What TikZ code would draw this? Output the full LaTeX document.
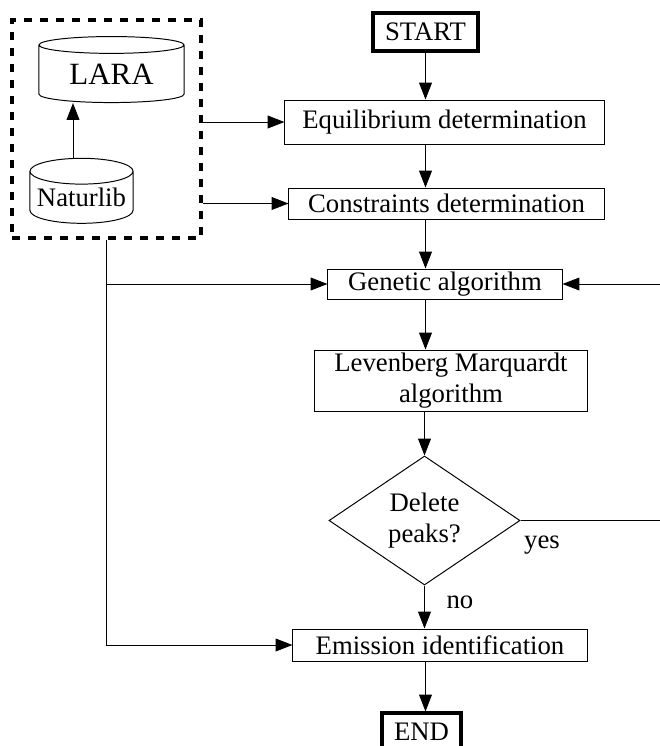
\documentclass[tikz,border=0pt]{standalone}
\usepackage{fontspec}
\setmainfont{Liberation Serif}
\usetikzlibrary{arrows.meta,shapes.geometric}

\begin{document}
\begin{tikzpicture}[x=0.025cm, y=-0.025cm,
	txt/.style={font=\fontsize{19}{21.5}\selectfont},
	box/.style={draw, txt, line width=0.7pt, inner sep=0pt, align=center},
	term/.style={box, line width=2.2pt},
	db/.style={draw, txt, cylinder, shape border rotate=90, inner sep=0pt, line width=0.7pt},
	arr/.style={-{Triangle[length=0.42cm, width=0.32cm]}, line width=0.7pt}
]

	\useasboundingbox (0,0) rectangle (660,746);

	\coordinate (S) at (425.5, 32);
	\coordinate (E) at (444.5, 122);
	\coordinate (C) at (446.5, 203.5);
	\coordinate (G) at (445, 284);
	\coordinate (L) at (451, 380.5);
	\coordinate (D) at (424.5, 520.5);
	\coordinate (I) at (440, 645);
	\coordinate (F) at (421.5, 732);
	\coordinate (N) at (73, 0);
	\coordinate (R) at (664, 0);

	\node[draw, line width=2.6pt, dash pattern=on 0.2cm off 0.2cm, minimum width=4.725cm, minimum height=5.45cm] (store) at (106.5, 129) {};
	\node[db, aspect=0.2, minimum width=3.625cm, minimum height=1.65cm, font=\fontsize{22}{24}\selectfont] (lara) at (111.5, 74) {LARA};
	\node[db, aspect=0.29, minimum width=2.575cm, minimum height=1.625cm] (natur) at (81.5, 197.5) {Naturlib};

	\node[term, minimum width=2.625cm, minimum height=0.95cm] (start) at (S) {START};
	\node[box, minimum width=7.975cm, minimum height=1.1cm] (equi) at (E) {Equilibrium determination};
	\node[box, minimum width=7.875cm, minimum height=0.775cm] (cons) at (C) {Constraints determination};
	\node[box, minimum width=5.85cm, minimum height=0.75cm] (gen) at (G) {Genetic algorithm};
	\node[box, minimum width=6.8cm, minimum height=1.525cm] (lm) at (L) {Levenberg Marquardt\\algorithm};
	\node[box, diamond, minimum width=4.775cm, minimum height=3.225cm] (dec) at (D) {Delete\\peaks?};
	\node[box, minimum width=7.35cm, minimum height=0.8cm] (emis) at (I) {Emission identification};
	\node[term, minimum width=1.975cm, minimum height=0.95cm] (end) at (F) {END};

	\draw[arr] (natur.north -| N) -- (lara.south -| N);
	\draw[arr] (store.east |- equi.west) -- (equi.west);
	\draw[arr] (store.east |- cons.west) -- (cons.west);
	\draw[arr] (start) -- (start |- equi.north);
	\draw[arr] (start |- equi.south) -- (start |- cons.north);
	\draw[arr] (start |- cons.south) -- (start |- gen.north);
	\draw[arr] (start |- gen.south) -- (start |- lm.north);
	\draw[arr] (dec.north |- lm.south) -- (dec.north);
	\draw[arr] (dec.south) -- (dec.south |- emis.north) node[pos=0.4, right=12pt, txt] {no};
	\draw[arr] (start |- emis.south) -- (start |- end.north);
	\draw[arr] (store.south) |- (emis.west);
	\draw[arr] (store.south |- gen.west) -- (gen.west);
	\draw[arr] (dec.east) -- node[pos=0.15, below=7pt, txt] {yes} (dec.east -| R) |- (gen.east);

\end{tikzpicture}
\end{document}
